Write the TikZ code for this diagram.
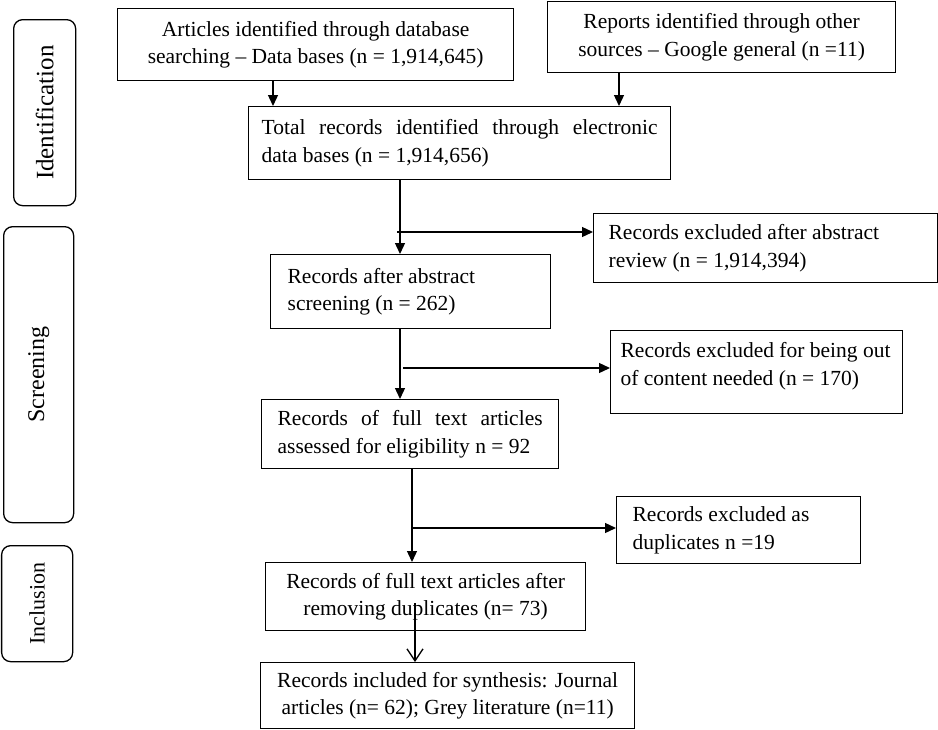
\documentclass[tikz,border=0pt]{standalone}
\usepackage{fontspec}
\setmainfont{Liberation Serif}
\usetikzlibrary{arrows.meta}

\begin{document}
\begin{tikzpicture}[x=1pt, y=-1pt,
  box/.style={draw, line width=1.3pt, anchor=north west, inner ysep=0pt, font=\fontsize{21.5}{27.5}\selectfont},
  phase/.style={draw, line width=1.3pt, rounded corners=9pt, anchor=north west, inner sep=0pt},
  phaselabel/.style={rotate=90, font=\fontsize{#1}{27}\selectfont},
  arr/.style={line width=1.3pt, -{Triangle[length=11pt, width=10pt]}},
  openarr/.style={line width=1.3pt, -{Straight Barb[length=12pt, width=16pt]}}]
\useasboundingbox (0,0) rectangle (938,729);
\node[phase, minimum width=62pt, minimum height=186pt] (ident) at (13,19) {};
\node[phaselabel=25] at (ident.center) {Identification};
\node[phase, minimum width=70pt, minimum height=296pt] (screen) at (3,226) {};
\node[phaselabel=24] at (screen.center) {Screening};
\node[phase, minimum width=71pt, minimum height=116pt] (incl) at (1,545) {};
\node[phaselabel=22] at (incl.center) {Inclusion};
\node[box, align=center, minimum width=396pt, minimum height=72pt] (A) at (117,8) {Articles identified through database\\searching -- Data bases (n = 1,914,645)};
\node[box, align=center, minimum width=348pt, minimum height=71pt] (B) at (547,1) {Reports identified through other\\sources -- Google general (n =11)};
\node[box, align=justify, text width=396pt, inner xsep=13pt, minimum height=73pt] (C) at (248,106) {Total records identified through electronic\linebreak data bases (n = 1,914,656)};
\node[box, align=flush left, text width=246pt, inner xsep=17pt, minimum height=74pt] (D) at (270,254) {Records after abstract\\screening (n = 262)};
\node[box, align=flush left, text width=314pt, inner xsep=15pt, minimum height=69pt] (E) at (593,213) {Records excluded after abstract\\review (n = 1,914,394)};
\node[box, align=justify, text width=265pt, inner xsep=16pt, minimum height=69pt] (F) at (261,399) {Records of full text articles\linebreak assessed for eligibility n = 92};
\node[box, align=flush left, text width=272pt, inner xsep=10pt, inner ysep=12pt, text depth=44pt] (G) at (610,330) {Records excluded for being out\\of content needed (n = 170)};
\node[box, align=center, minimum width=320pt, minimum height=68pt] (H) at (265,562) {Records of full text articles after\\removing duplicates (n= 73)};
\node[box, align=flush left, text width=212pt, inner xsep=16pt, minimum height=67pt] (I) at (616,496) {Records excluded as\\duplicates n =19};
\node[box, align=center, minimum width=374pt, minimum height=66pt] (J) at (260,662) {Records included for synthesis: Journal\\articles (n= 62); Grey literature (n=11)};
\coordinate (ta) at (273,0);
\coordinate (tb) at (619,0);
\coordinate (t1) at (400,0);
\coordinate (t2) at (412,0);
\coordinate (b1) at (397,232);
\coordinate (b2) at (403,368);
\coordinate (b3) at (412,528);
\coordinate (h1) at (415,603);
\draw[arr] (A.south -| ta) -- (C.north -| ta);
\draw[arr] (B.south -| tb) -- (C.north -| tb);
\draw[arr] (C.south -| t1) -- (D.north -| t1);
\draw[arr] (b1) -- (b1 -| E.west);
\draw[arr] (D.south -| t1) -- (F.north -| t1);
\draw[arr] (b2) -- (b2 -| G.west);
\draw[arr] (F.south -| t2) -- (H.north -| t2);
\draw[arr] (b3) -- (b3 -| I.west);
\draw[openarr] (h1) -- (h1 |- J.north);
\end{tikzpicture}
\end{document}
